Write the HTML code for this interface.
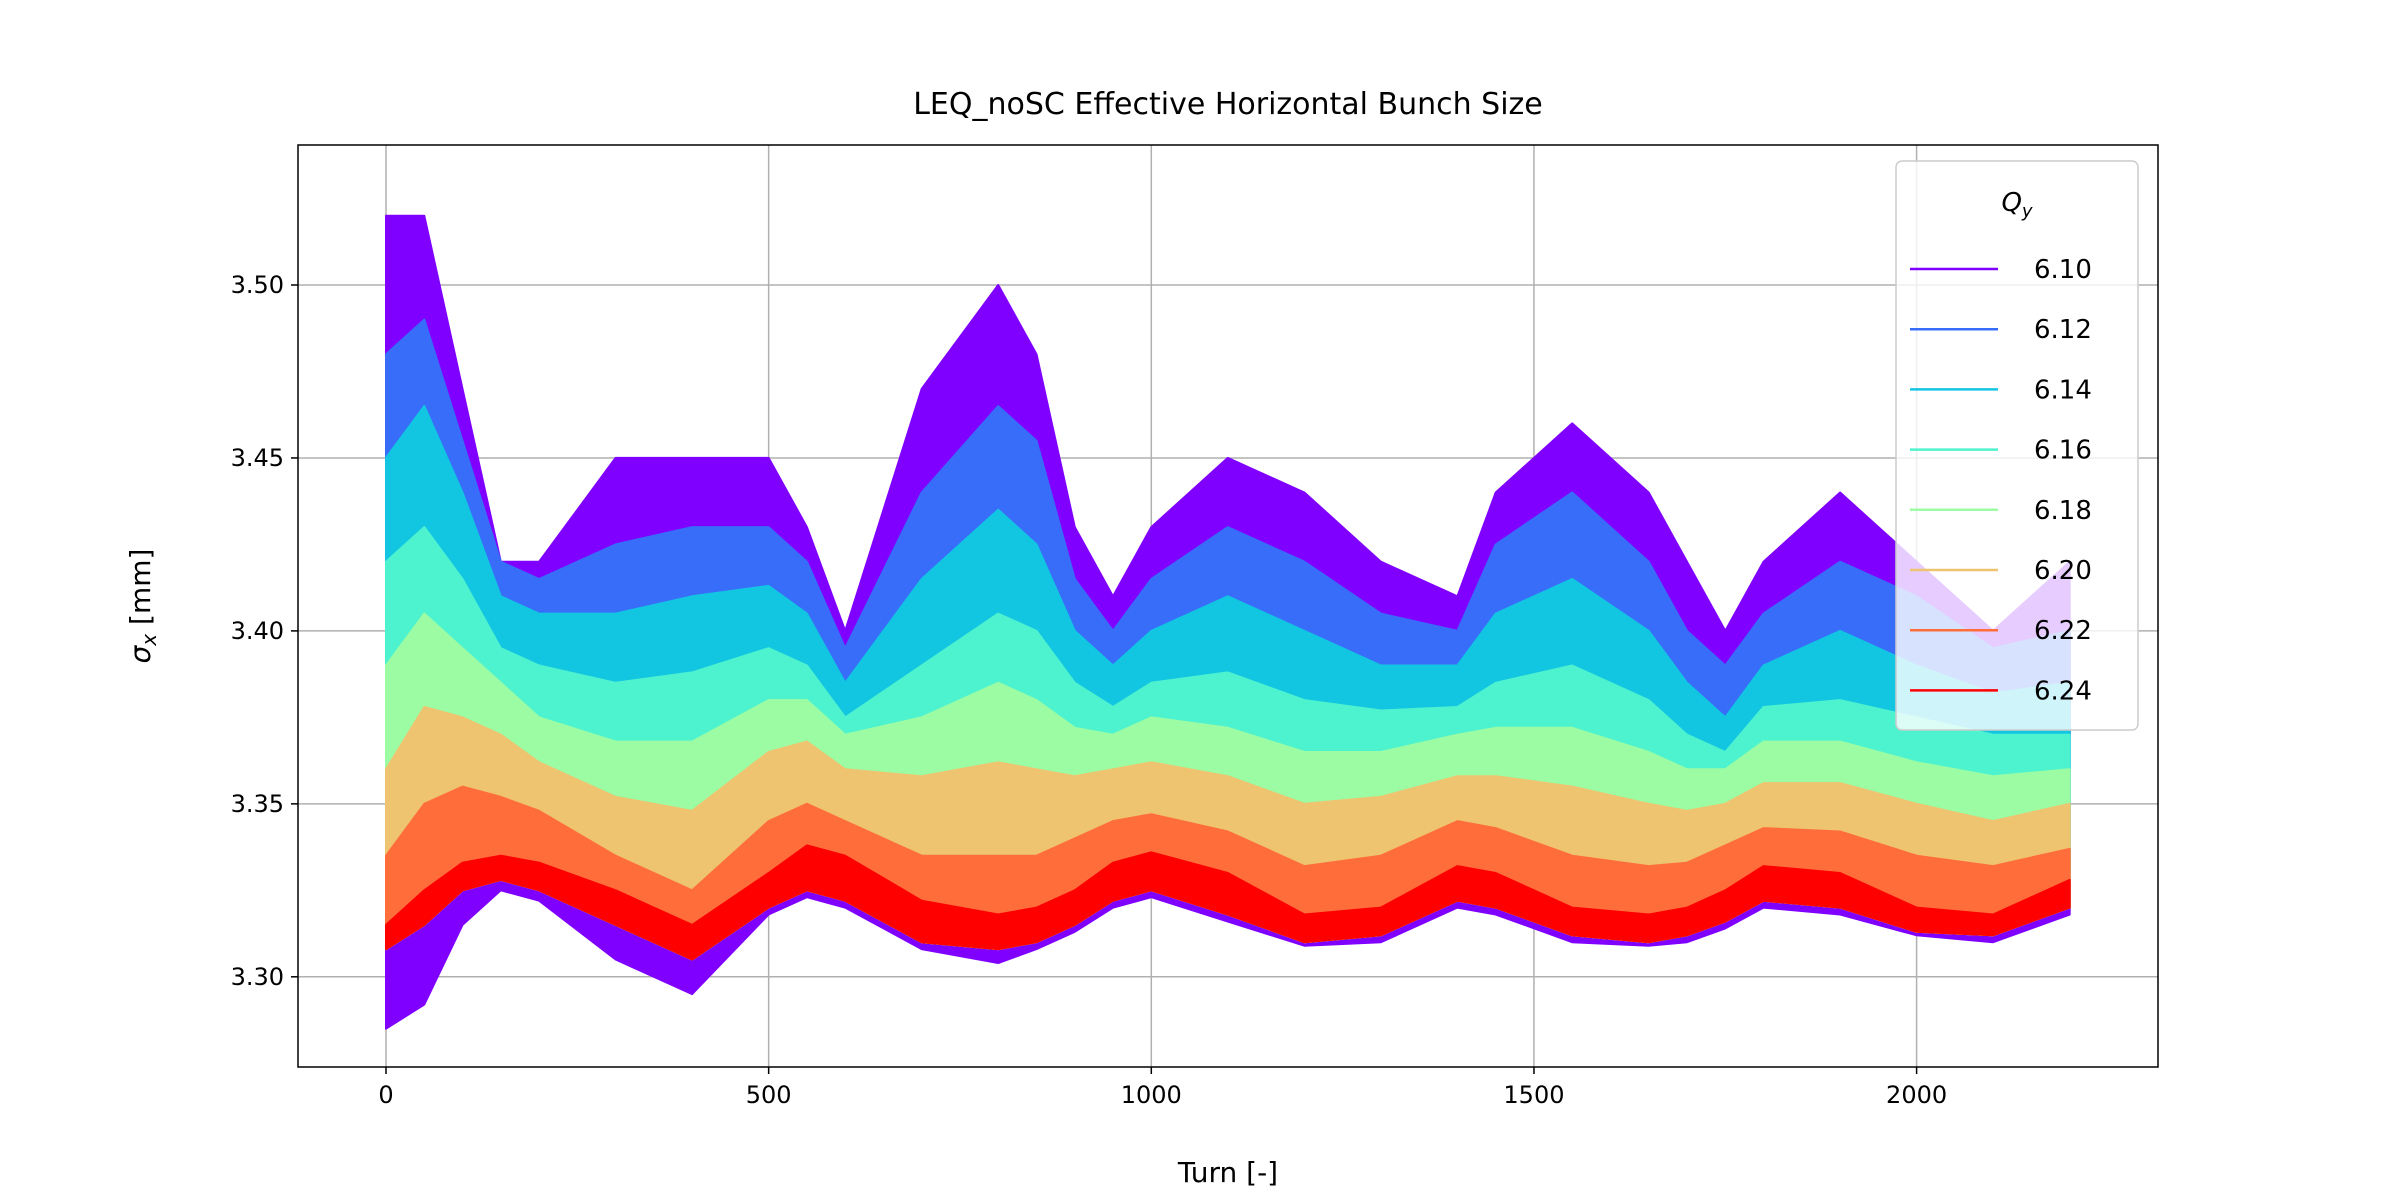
<!DOCTYPE html>
<html><head><meta charset="utf-8"><style>
html,body{margin:0;padding:0;background:#fff;}
svg{display:block;font-family:"DejaVu Sans","Liberation Sans",sans-serif;}
</style></head><body>
<svg id="chart" width="2400" height="1200" viewBox="0 0 2400 1200" xmlns="http://www.w3.org/2000/svg">
<rect width="2400" height="1200" fill="#fff"/>
<text x="1228" y="114" font-size="30" text-anchor="middle">LEQ_noSC Effective Horizontal Bunch Size</text>
<g id="grid"></g>
<g id="series"></g>
<g id="axes"></g>
<text x="1228" y="1182" font-size="28" text-anchor="middle">Turn [-]</text>
<text transform="translate(150,606) rotate(-90)" font-size="28" text-anchor="middle"><tspan font-style="italic">σ</tspan><tspan font-size="20" dy="6" font-style="italic">x</tspan><tspan dy="-6"> [mm]</tspan></text>
<g id="legend"></g>
</svg>
<script>
const turns=[0,50,100,150,200,300,400,500,550,600,700,800,850,900,950,1000,1100,1200,1300,1400,1450,1550,1650,1700,1750,1800,1900,2000,2100,2200];
const qyLabels=["6.10","6.12","6.14","6.16","6.18","6.20","6.22","6.24"];
const colors=["#8000ff","#386df9","#12c6e2","#4df3ce","#9cfca4","#eec470","#ff6e3a","#ff0000"];
const up610=[3.52,3.52,3.47,3.42,3.42,3.45,3.45,3.45,3.43,3.40,3.47,3.50,3.48,3.43,3.41,3.43,3.45,3.44,3.42,3.41,3.44,3.46,3.44,3.42,3.40,3.42,3.44,3.42,3.40,3.42];
const up612=[3.48,3.49,3.455,3.42,3.415,3.425,3.43,3.43,3.42,3.395,3.44,3.465,3.455,3.415,3.40,3.415,3.43,3.42,3.405,3.40,3.425,3.44,3.42,3.40,3.39,3.405,3.42,3.41,3.395,3.40];
const up614=[3.45,3.465,3.44,3.41,3.405,3.405,3.41,3.413,3.405,3.385,3.415,3.435,3.425,3.40,3.39,3.40,3.41,3.40,3.39,3.39,3.405,3.415,3.40,3.385,3.375,3.39,3.40,3.39,3.382,3.385];
const up616=[3.42,3.43,3.415,3.395,3.39,3.385,3.388,3.395,3.39,3.375,3.39,3.405,3.40,3.385,3.378,3.385,3.388,3.38,3.377,3.378,3.385,3.39,3.38,3.37,3.365,3.378,3.38,3.375,3.37,3.37];
const up618=[3.39,3.405,3.395,3.385,3.375,3.368,3.368,3.38,3.38,3.37,3.375,3.385,3.38,3.372,3.37,3.375,3.372,3.365,3.365,3.37,3.372,3.372,3.365,3.36,3.36,3.368,3.368,3.362,3.358,3.36];
const up620=[3.36,3.378,3.375,3.37,3.362,3.352,3.348,3.365,3.368,3.36,3.358,3.362,3.36,3.358,3.36,3.362,3.358,3.35,3.352,3.358,3.358,3.355,3.35,3.348,3.35,3.356,3.356,3.35,3.345,3.35];
const up622=[3.335,3.35,3.355,3.352,3.348,3.335,3.325,3.345,3.35,3.345,3.335,3.335,3.335,3.34,3.345,3.347,3.342,3.332,3.335,3.345,3.343,3.335,3.332,3.333,3.338,3.343,3.342,3.335,3.332,3.337];
const up624=[3.315,3.325,3.333,3.335,3.333,3.325,3.315,3.33,3.338,3.335,3.322,3.318,3.32,3.325,3.333,3.336,3.33,3.318,3.32,3.332,3.33,3.32,3.318,3.32,3.325,3.332,3.33,3.32,3.318,3.328];
const lowDip=[3.285,3.292,3.315,3.325,3.322,3.305,3.295,3.318,3.323,3.32,3.308,3.304,3.308,3.313,3.32,3.323,3.316,3.309,3.31,3.32,3.318,3.31,3.309,3.31,3.314,3.32,3.318,3.312,3.31,3.318];
const low624=[3.308,3.315,3.325,3.328,3.325,3.315,3.305,3.32,3.325,3.322,3.31,3.308,3.31,3.315,3.322,3.325,3.318,3.31,3.312,3.322,3.32,3.312,3.31,3.312,3.316,3.322,3.32,3.313,3.312,3.32];
const uppers=[up610,up612,up614,up616,up618,up620,up622,up624];
const lowers=[lowDip,low624,low624,low624,low624,low624,low624,low624];
const xTicks=[0,500,1000,1500,2000];
const yTicks=[3.30,3.35,3.40,3.45,3.50];

const NS="http://www.w3.org/2000/svg";
const L=298,R=2158,T=145,B=1067;
function xs(t){return 386+t*0.7653;}
function ys(v){return 285+(3.5-v)*3459;}
function mk(tag,attrs,parent){const e=document.createElementNS(NS,tag);for(const k in attrs)e.setAttribute(k,attrs[k]);parent.appendChild(e);return e;}
const grid=document.getElementById('grid'),axes=document.getElementById('axes'),ser=document.getElementById('series'),leg=document.getElementById('legend');
xTicks.forEach(t=>{
  const g=mk('line',{x1:xs(t),x2:xs(t),y1:T,y2:B,stroke:'#b0b0b0','stroke-width':1.5},grid);
  
  
  const tk=mk('line',{x1:xs(t),x2:xs(t),y1:B,y2:B+7,stroke:'#000','stroke-width':1.5},axes);
  
  
  const lb=mk('text',{x:xs(t),y:B+36,'font-size':24,'text-anchor':'middle'},axes);lb.textContent=t;
  
  
});
yTicks.forEach(v=>{
  const g=mk('line',{x1:L,x2:R,y1:ys(v),y2:ys(v),stroke:'#b0b0b0','stroke-width':1.5},grid);
  
  
  const tk=mk('line',{x1:L-7,x2:L,y1:ys(v),y2:ys(v),stroke:'#000','stroke-width':1.5},axes);
  
  
  const lb=mk('text',{x:L-14,y:ys(v)+8,'font-size':24,'text-anchor':'end'},axes);lb.textContent=v.toFixed(2);
  
  
});
uppers.forEach((up,i)=>{
  const lo=lowers[i];
  let d='M'+turns.map((t,j)=>xs(t).toFixed(1)+','+ys(up[j]).toFixed(1)).join(' L');
  for(let j=turns.length-1;j>=0;j--)d+=' L'+xs(turns[j]).toFixed(1)+','+ys(lo[j]).toFixed(1);
  d+='Z';
  const p=mk('path',{d:d,fill:colors[i],stroke:colors[i],'stroke-width':2,'stroke-linejoin':'round'},ser);
  
  
});
const sp=mk('rect',{x:L,y:T,width:R-L,height:B-T,fill:'none',stroke:'#000','stroke-width':1.5},axes);


const box=mk('rect',{x:1896,y:161,width:242,height:569,rx:6,fill:'rgba(255,255,255,0.8)',stroke:'#ccc','stroke-width':1.5},leg);


const lt=mk('text',{x:2017,y:211,'font-size':26,'text-anchor':'middle','font-style':'italic'},leg);
lt.innerHTML='Q<tspan font-size="18" dy="6">y</tspan>';


qyLabels.forEach((q,i)=>{
  const y=269+i*60.2;
  const ln=mk('line',{x1:1910,x2:1998,y1:y,y2:y,stroke:colors[i],'stroke-width':2.5},leg);
  
  
  const tx=mk('text',{x:2034,y:y+9,'font-size':26},leg);tx.textContent=q;
  
  
});
</script>
</body></html>
